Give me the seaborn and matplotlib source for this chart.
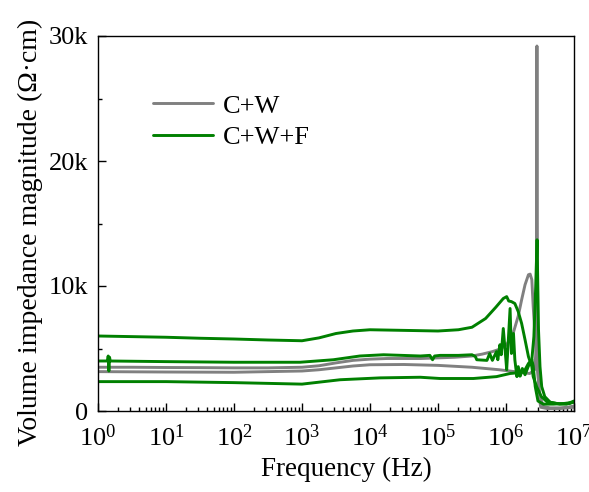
import numpy as np
import pandas as pd
import matplotlib
matplotlib.use("Agg")
import matplotlib.pyplot as plt
import seaborn as sns
from matplotlib.ticker import LogLocator, FixedLocator, FuncFormatter, NullFormatter
from matplotlib.lines import Line2D

# ---- data (log10 of frequency in Hz, impedance in kOhm*cm) ----
cw_a_logf = [0, 0.5, 1, 1.5, 2, 2.5, 3, 3.25, 3.5, 3.75, 4, 4.25, 4.5, 4.75, 5, 5.25, 5.5,
             5.65, 5.8, 5.91, 6.01, 6.11, 6.18, 6.23, 6.28, 6.33, 6.355, 6.38, 6.40, 6.428,
             6.452, 6.477, 6.50, 6.55, 6.65, 6.8, 6.9, 7.0]
cw_a_z = [3.5, 3.5, 3.48, 3.47, 3.45, 3.45, 3.5, 3.62, 3.85, 4.05, 4.15, 4.2, 4.2, 4.2, 4.25,
          4.3, 4.4, 4.55, 4.75, 4.95, 5.3, 6.3, 7.6, 8.9, 10.1, 10.9, 10.95, 10.5, 8.35, 5.95,
          3.8, 2.5, 1.15, 0.35, 0.25, 0.25, 0.3, 0.4]

cw_b_logf = [0, 1, 2, 3, 3.25, 3.5, 3.75, 4, 4.5, 5, 5.5, 5.9, 6.2, 6.35, 6.42, 6.445,
             6.455, 6.465, 6.48, 6.51, 6.6, 6.8, 7.0]
cw_b_z = [3.15, 3.12, 3.1, 3.2, 3.3, 3.45, 3.6, 3.7, 3.72, 3.65, 3.5, 3.3, 3.1, 3.0, 3.3,
          5.0, 29.2, 5.0, 1.5, 0.3, 0.2, 0.2, 0.3]

cwf_a_logf = [0, 0.5, 1, 1.5, 2, 2.5, 3, 3.25, 3.5, 3.75, 4, 4.5, 5, 5.3, 5.5, 5.7, 5.85,
              5.96, 6.01, 6.04, 6.08, 6.13, 6.18, 6.23, 6.28, 6.33, 6.38, 6.40, 6.45, 6.52,
              6.60, 6.75, 6.89, 7.0]
cwf_a_z = [6.0, 5.95, 5.9, 5.82, 5.76, 5.68, 5.62, 5.85, 6.2, 6.4, 6.5, 6.45, 6.4, 6.5, 6.7,
           7.4, 8.3, 9.0, 9.15, 8.8, 8.75, 8.6, 7.95, 7.0, 5.7, 4.35, 3.55, 2.75, 1.95, 1.15,
           0.75, 0.6, 0.55, 0.8]

cwf_b_logf = [0, 0.14, 0.15, 0.16, 0.17, 0.18, 0.5, 1, 2, 2.97, 3.46, 3.85, 4.2, 4.74, 4.88,
              4.92, 4.95, 5.03, 5.3, 5.5, 5.55, 5.57, 5.72, 5.76, 5.8, 5.86, 5.88, 5.91, 5.93,
              5.96, 6.0, 6.01, 6.06, 6.08, 6.11, 6.13, 6.16, 6.18, 6.21, 6.24, 6.28, 6.33,
              6.38, 6.40, 6.43, 6.47, 6.55, 6.7, 6.85, 7.0]
cwf_b_z = [4.0, 4.0, 4.4, 3.2, 4.3, 4.0, 3.98, 3.95, 3.9, 3.9, 4.1, 4.4, 4.5, 4.4, 4.45, 4.1,
           4.4, 4.45, 4.45, 4.5, 4.35, 4.1, 4.05, 4.6, 4.05, 4.75, 4.1, 5.3, 4.5, 6.6, 4.0,
           3.3, 8.2, 4.6, 6.2, 4.1, 2.75, 3.55, 2.8, 3.4, 2.9, 3.6, 4.1, 3.6, 1.95, 0.8, 0.55,
           0.55, 0.6, 0.7]

cwf_c_logf = [0, 1, 2, 3, 3.56, 4.15, 4.74, 5.03, 5.52, 5.86, 6.06, 6.16, 6.2, 6.23, 6.28,
              6.33, 6.38, 6.41, 6.437, 6.457, 6.478, 6.50, 6.525, 6.57, 6.65, 6.79, 6.94, 7.0]
cwf_c_z = [2.35, 2.35, 2.27, 2.15, 2.5, 2.65, 2.7, 2.6, 2.6, 2.75, 3.0, 3.05, 2.8, 3.1, 3.3,
           3.8, 4.1, 5.95, 9.95, 13.7, 6.5, 3.55, 1.95, 1.15, 0.7, 0.55, 0.6, 0.75]

series_labels = ["C+W", "C+W+F"]
y_ticks = [0, 10, 20, 30]

curves = [
    ("C+W", "a", cw_a_logf, cw_a_z),
    ("C+W", "b", cw_b_logf, cw_b_z),
    ("C+W+F", "a", cwf_a_logf, cwf_a_z),
    ("C+W+F", "b", cwf_b_logf, cwf_b_z),
    ("C+W+F", "c", cwf_c_logf, cwf_c_z),
]
frames = []
for sample, cid, lf, z in curves:
    frames.append(pd.DataFrame({"freq": 10 ** np.asarray(lf, float), "z": z,
                                "sample": sample, "curve": sample + cid}))
df = pd.concat(frames, ignore_index=True)

colors = {"C+W": "#808080", "C+W+F": "#008000"}
lw = 2.1

# ---- style ----
sns.set_style("ticks")
plt.rcParams["font.family"] = ["Liberation Serif", "DejaVu Serif"]
plt.rcParams["mathtext.fontset"] = "custom"
plt.rcParams["mathtext.rm"] = "Liberation Serif"
plt.rcParams["mathtext.it"] = "Liberation Serif:italic"
plt.rcParams["mathtext.bf"] = "Liberation Serif:bold"
plt.rcParams["text.color"] = "black"
plt.rcParams["axes.labelcolor"] = "black"
plt.rcParams["xtick.color"] = "black"
plt.rcParams["ytick.color"] = "black"

fig = plt.figure(figsize=(5.89, 4.92), dpi=100)
ax = fig.add_axes([98 / 589, 1 - 411 / 492, 476 / 589, 375 / 492])

for sample in series_labels:
    sub = df[df["sample"] == sample]
    sns.lineplot(data=sub, x="freq", y="z", units="curve", estimator=None, sort=False,
                 color=colors[sample], linewidth=lw, ax=ax, legend=False)

ax.set_xscale("log")
ax.set_xlim(1, 1e7)
ax.set_ylim(0, 30)
ax.xaxis.set_major_locator(LogLocator(base=10, numticks=20))
ax.xaxis.set_minor_locator(LogLocator(base=10, subs=np.arange(2, 10), numticks=20))
ax.xaxis.set_minor_formatter(NullFormatter())
ax.yaxis.set_major_locator(FixedLocator(y_ticks))
ax.yaxis.set_minor_locator(FixedLocator([5, 15, 25]))
ax.yaxis.set_major_formatter(FuncFormatter(lambda v, p: "0" if v == 0 else f"{int(v)}k"))

ax.tick_params(which="both", direction="in", top=False, right=False, labelsize=19,
               width=1.0, color="black", labelcolor="black")
ax.tick_params(which="major", length=6)
ax.tick_params(which="minor", length=3)
ax.tick_params(axis="y", pad=7)
ax.tick_params(axis="x", pad=10)
for s in ax.spines.values():
    s.set_linewidth(1.0)
    s.set_color("black")

ax.set_xlabel("Frequency (Hz)", fontsize=19.5)
ax.set_ylabel("Volume impedance magnitude (Ω·cm)", fontsize=20)
ax.xaxis.set_label_coords(0.521, -0.123)
ax.yaxis.set_label_coords(-0.115, 0.477)

handles = [Line2D([], [], color=colors[s], linewidth=lw) for s in series_labels]
ax.legend(handles, series_labels, loc="upper left", bbox_to_anchor=(0.115, 0.845),
          frameon=False, fontsize=19, handlelength=2.3, handletextpad=0.35,
          labelspacing=0.3, borderpad=0, borderaxespad=0)

fig.savefig("out.png", dpi=100)
